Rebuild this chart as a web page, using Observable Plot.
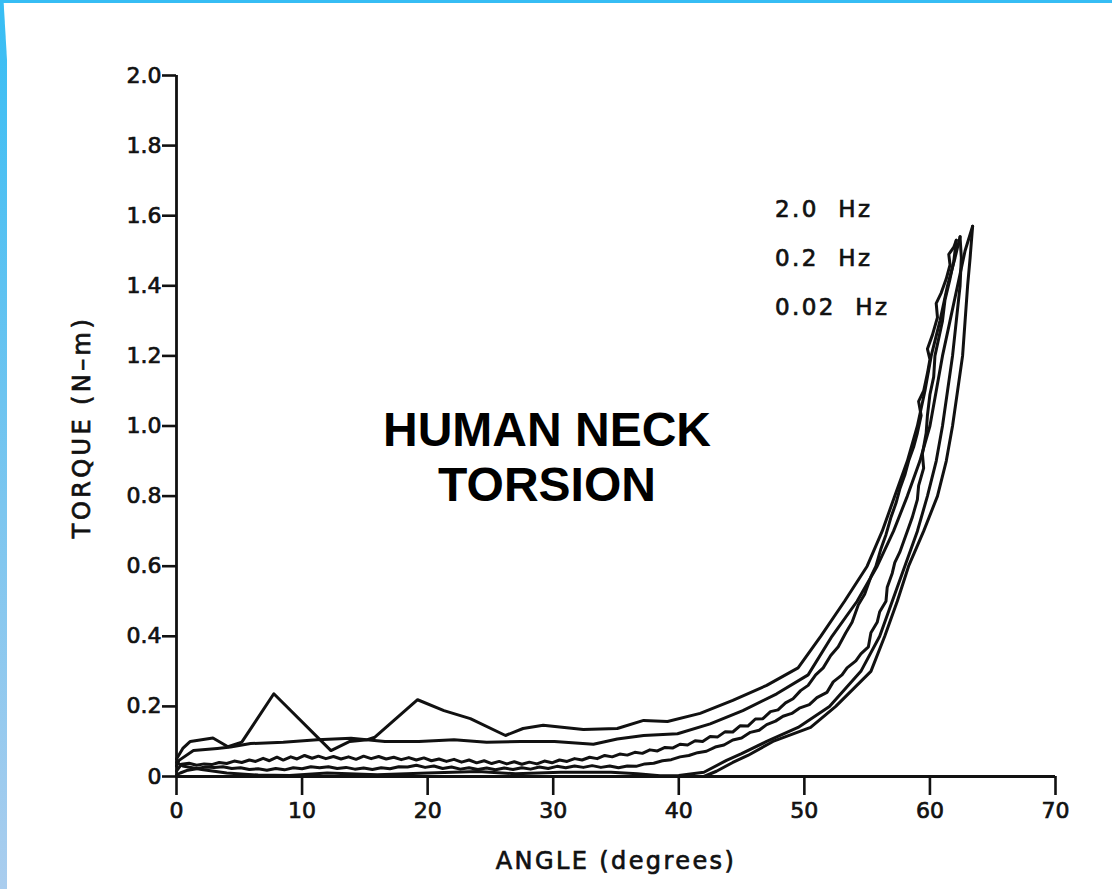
<!DOCTYPE html>
<html>
<head>
<meta charset="utf-8">
<script src="https://cdn.jsdelivr.net/npm/d3@7"></script>
<script src="https://cdn.jsdelivr.net/npm/@observablehq/plot@0.6"></script>
<style>
  html, body { margin: 0; padding: 0; background: #fff; }
  #page { position: relative; width: 1112px; height: 889px; overflow: hidden; background: #fff; }
  #topbar { position: absolute; left: 0; top: 0; width: 1112px; height: 3px; background: #36bdf4; }
  #leftbar { position: absolute; left: 0; top: 0; width: 7px; height: 889px;
    background: linear-gradient(#36bdf4, #7cc6ef 57%, #aacdee);
    clip-path: polygon(0 0, 3.5px 0, 7px 60px, 7px 889px, 0 889px); }
  #chart { position: absolute; left: 0; top: 0; }
  .lbl { position: absolute; font-family: "DejaVu Sans", sans-serif; color: #111; white-space: pre; -webkit-text-stroke: 0.7px #111; }
  #title { position: absolute; left: 297px; top: 402px; width: 500px; text-align: center;
    font-family: "Liberation Sans", Arial, sans-serif; font-weight: bold; font-size: 48px; line-height: 55px; color: #000; }
  #legend { left: 775px; top: 185px; font-size: 23px; line-height: 49px; letter-spacing: 2.4px; }
  #xtitle { left: 416px; top: 846px; width: 400px; text-align: center; font-size: 24px; line-height: 30px; letter-spacing: 2.4px; }
  #ytitle { left: -68px; top: 414px; width: 300px; height: 26px; text-align: center; font-size: 24px; line-height: 26px; letter-spacing: 3.4px; transform: rotate(-90deg); }
</style>
</head>
<body>
<div id="page">
  <div id="chart"></div>
  <div id="topbar"></div>
  <div id="leftbar"></div>
  <div id="title">HUMAN NECK<br>TORSION</div>
  <div id="legend" class="lbl"></div>
  <div id="xtitle" class="lbl">ANGLE (degrees)</div>
  <div id="ytitle" class="lbl">TORQUE (N–m)</div>
</div>
<script>
// ---- Axis ticks & labels ----
const xTicks = [0, 10, 20, 30, 40, 50, 60, 70];
const yTicks = [0, 0.2, 0.4, 0.6, 0.8, 1.0, 1.2, 1.4, 1.6, 1.8, 2.0];
const yTickLabels = ["0", "0.2", "0.4", "0.6", "0.8", "1.0", "1.2", "1.4", "1.6", "1.8", "2.0"];
const legendLabels = ["2.0  Hz", "0.2  Hz", "0.02  Hz"];

// ---- Curves [angle (deg), torque (N-m)] ----
const loading20 = [[0,0.05],[0.5,0.08],[1.1,0.1],[2.9,0.11],[4.1,0.085],[5.2,0.098],[7.75,0.236],[12.3,0.074],[13.8,0.1],[15.2,0.105],[15.8,0.112],[19.2,0.219],[21.3,0.188],[23.4,0.165],[26.2,0.117],[27.6,0.137],[29.2,0.146],[32.4,0.134],[35.1,0.137],[37.2,0.16],[39.1,0.157],[41.7,0.18],[44.3,0.217],[47.0,0.26],[49.5,0.31],[51.3,0.4],[53.2,0.5],[55.0,0.6],[56.2,0.7],[57.2,0.8],[58.2,0.9],[59.0,1.0],[59.6,1.1],[60.1,1.2],[60.8,1.3],[61.4,1.4],[62.0,1.48],[62.4,1.54]];

const loading02 = [[0,0.03],[0.2,0.046],[1.35,0.074],[3.25,0.08],[4.3,0.084],[5.9,0.094],[8.5,0.098],[11.2,0.105],[13.9,0.109],[16.6,0.1],[19.3,0.1],[22.1,0.105],[24.7,0.098],[27.4,0.1],[30.1,0.1],[33.2,0.092],[35.1,0.107],[37.2,0.117],[39.9,0.122],[42.5,0.15],[45.1,0.188],[47.8,0.236],[50.3,0.29],[52.2,0.4],[54.2,0.5],[55.8,0.6],[57.1,0.7],[58.2,0.8],[59.2,0.9],[60.0,1.0],[60.5,1.1],[61.0,1.2],[61.6,1.3],[62.2,1.4],[62.8,1.5],[63.4,1.57]];

const loading002 = [[0,0.015],[0.4,0.035],[1.0,0.038],[1.6,0.032],[2.2,0.036],[2.8,0.034],[3.4,0.04],[4.0,0.037],[4.6,0.044],[5.2,0.04],[5.8,0.047],[6.3,0.043],[6.9,0.052],[7.4,0.045],[8.0,0.055],[8.5,0.047],[9.1,0.056],[9.6,0.05],[10.2,0.06],[10.8,0.052],[11.3,0.058],[11.9,0.051],[12.5,0.057],[13.1,0.05],[13.7,0.056],[14.3,0.049],[14.9,0.058],[15.5,0.051],[16.1,0.057],[16.7,0.05],[17.3,0.055],[17.9,0.048],[18.5,0.054],[19.1,0.047],[19.7,0.053],[20.3,0.045],[20.9,0.05],[21.5,0.043],[22.1,0.049],[22.7,0.041],[23.3,0.047],[23.9,0.039],[24.5,0.045],[25.1,0.037],[25.7,0.043],[26.3,0.036],[26.9,0.042],[27.5,0.035],[28.1,0.041],[28.7,0.036],[29.3,0.044],[29.9,0.039],[30.5,0.047],[31.1,0.043],[31.7,0.051],[32.3,0.047],[32.9,0.055],[33.5,0.051],[34.1,0.06],[34.7,0.056],[35.3,0.064],[35.9,0.061],[36.5,0.069],[37.1,0.066],[37.7,0.076],[38.3,0.073],[38.9,0.083],[39.5,0.081],[40.1,0.092],[40.7,0.09],[41.3,0.102],[41.9,0.1],[42.5,0.114],[43.1,0.113],[43.7,0.128],[44.3,0.127],[44.9,0.145],[45.5,0.144],[46.1,0.164],[46.7,0.165],[47.3,0.185],[47.9,0.19],[48.5,0.21],[49.1,0.222],[49.7,0.245],[50.3,0.26],[50.9,0.29],[51.5,0.31],[52.1,0.345],[52.7,0.37],[53.3,0.41],[53.8,0.44],[54.3,0.49],[54.8,0.52],[55.3,0.57],[55.7,0.6],[56.1,0.65],[56.5,0.69],[56.9,0.74],[57.3,0.78],[57.6,0.82],[58.0,0.86],[58.3,0.9],[58.7,0.94],[59.0,0.98],[59.3,1.03],[59.1,1.07],[59.5,1.1],[59.8,1.15],[60.0,1.19],[59.8,1.22],[60.2,1.26],[60.6,1.31],[60.5,1.35],[60.9,1.38],[61.3,1.42],[61.6,1.46],[61.5,1.49],[61.9,1.51],[62.1,1.53]];

const unloading20 = [[62.4,1.54],[62.5,1.48],[62.4,1.4],[62.1,1.3],[61.8,1.2],[61.4,1.1],[61.0,1.0],[60.5,0.9],[59.8,0.8],[59.0,0.7],[58.0,0.6],[57.0,0.5],[56.0,0.4],[54.5,0.3],[52.0,0.2],[49.5,0.14],[47.0,0.1],[45.0,0.065],[43.8,0.046],[42.0,0.012],[40.0,0.003],[38.5,0.002],[36.7,0.008],[34.6,0.012],[30.6,0.012],[27.0,0.008],[24.0,0.014],[20.0,0.01],[16.0,0.005],[12.0,0.01],[9.0,0.003],[6.5,0.004],[4.0,0.01],[2.0,0.02],[0.5,0.03],[0,0.04]];

const unloading02 = [[63.4,1.57],[63.2,1.48],[63.0,1.4],[62.8,1.3],[62.6,1.2],[62.2,1.1],[61.8,1.0],[61.3,0.9],[60.6,0.8],[59.5,0.7],[58.3,0.6],[57.4,0.5],[56.4,0.4],[55.3,0.3],[52.5,0.2],[50.5,0.14],[47.5,0.1],[45.5,0.06],[44.3,0.04],[43.0,0.015],[42.0,0.0],[0,0.0]];

const unloading002 = [[62.1,1.53],[61.9,1.47],[61.6,1.42],[61.2,1.36],[61.0,1.3],[60.7,1.25],[60.4,1.2],[60.3,1.14],[60.0,1.09],[59.8,1.03],[59.7,0.98],[59.4,0.92],[59.5,0.88],[59.1,0.83],[59.0,0.79],[58.6,0.74],[58.3,0.71],[57.9,0.67],[57.6,0.64],[57.2,0.61],[57.0,0.58],[56.6,0.54],[56.5,0.5],[56.0,0.47],[55.8,0.44],[55.3,0.41],[55.1,0.37],[54.5,0.35],[54.1,0.33],[53.4,0.31],[53.0,0.29],[52.3,0.27],[51.8,0.24],[51.0,0.225],[50.4,0.205],[49.6,0.195],[49.0,0.18],[48.3,0.172],[47.7,0.158],[47.0,0.148],[46.4,0.132],[45.7,0.126],[45.0,0.11],[44.3,0.104],[43.6,0.09],[42.9,0.084],[42.2,0.072],[41.5,0.068],[40.8,0.06],[40.1,0.056],[39.4,0.048],[38.7,0.045],[38.0,0.038],[37.3,0.036],[36.6,0.029],[35.9,0.03],[35.2,0.025],[34.5,0.03],[33.8,0.026],[33.1,0.031],[32.4,0.026],[31.7,0.03],[31.0,0.025],[30.3,0.029],[29.6,0.023],[28.9,0.027],[28.2,0.021],[27.5,0.025],[26.8,0.02],[26.1,0.024],[25.4,0.019],[24.7,0.024],[24.0,0.02],[23.3,0.025],[22.6,0.021],[21.9,0.027],[21.2,0.023],[20.5,0.03],[19.8,0.026],[19.1,0.032],[18.4,0.027],[17.7,0.028],[17.0,0.022],[16.3,0.025],[15.6,0.02],[14.9,0.024],[14.2,0.021],[13.5,0.026],[12.8,0.023],[12.1,0.028],[11.4,0.025],[10.7,0.028],[10.0,0.022],[9.3,0.025],[8.6,0.019],[7.9,0.023],[7.2,0.018],[6.5,0.022],[5.8,0.02],[5.1,0.025],[4.4,0.023],[3.7,0.028],[3.0,0.026],[2.3,0.027],[1.6,0.022],[0.9,0.018],[0.3,0.01],[0,0.005]];

const curves = [
  ["2.0 Hz loading", loading20], ["0.2 Hz loading", loading02], ["0.02 Hz loading", loading002],
  ["2.0 Hz unloading", unloading20], ["0.2 Hz unloading", unloading02], ["0.02 Hz unloading", unloading002]
];
const rows = curves.flatMap(([series, pts]) => pts.map(([x, y]) => ({series, x, y})));

const ink = "#111";
const chart = Plot.plot({
  width: 1112, height: 889,
  marginLeft: 176, marginRight: 57, marginTop: 75, marginBottom: 113,
  x: {domain: [0, 70]},
  y: {domain: [0, 2]},
  style: {fontFamily: "DejaVu Sans, sans-serif", fontSize: "22px", color: ink, background: "transparent", overflow: "visible"},
  marks: [
    Plot.axisY({ticks: yTicks, tickFormat: d => yTickLabels[yTicks.findIndex(t => Math.abs(t - d) < 1e-9)],
      tickSize: 14, tickPadding: 1, strokeWidth: 2.6, label: null, fontSize: 22, letterSpacing: 2.5}),
    Plot.axisX({ticks: xTicks, tickSize: 19, tickPadding: 7, strokeWidth: 2.6, label: null, fontSize: 22, letterSpacing: 1.5}),
    Plot.ruleX([0], {y1: 0, y2: 2, stroke: ink, strokeWidth: 2.8}),
    Plot.ruleY([0], {x1: 0, x2: 70, stroke: ink, strokeWidth: 2.8}),
    Plot.line(rows, {x: "x", y: "y", z: "series", stroke: ink, strokeWidth: 3, strokeLinejoin: "round", curve: "linear"})
  ]
});
// slightly heavier tick-label ink, like the scanned original
d3.select(chart).selectAll("text").attr("stroke", ink).attr("stroke-width", 0.7);
document.getElementById("chart").appendChild(chart);
document.getElementById("legend").innerHTML = legendLabels.join("<br>");
</script>
</body>
</html>
